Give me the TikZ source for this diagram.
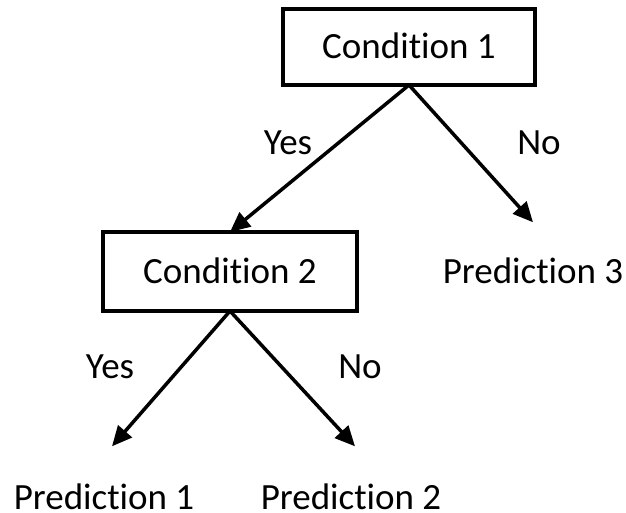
\documentclass[tikz,border=0pt]{standalone}
\usepackage{fontspec}
\setmainfont{Carlito}[Ligatures=NoCommon]
\usetikzlibrary{arrows.meta}
\begin{document}
\begin{tikzpicture}[x=1pt,y=-1pt,
  every node/.style={font=\fontsize{37}{44}\selectfont, text height=24pt, text depth=0pt},
  condbox/.style={draw, line width=3.5pt, minimum width=252pt, minimum height=76pt, inner sep=0pt, outer sep=0pt},
  predtext/.style={inner sep=0pt},
  lbl/.style={inner sep=0pt, anchor=base},
  arr/.style={line width=3.5pt, -{Triangle[length=20pt,width=18pt]}}]
\useasboundingbox (0,0) rectangle (626,513);
\node[condbox] (c1) at (409,47) {Condition 1};
\node[condbox, minimum width=254pt, minimum height=79pt] (c2) at (230,271.5) {Condition 2};
\node[predtext] (p3) at (533,271.5) {Prediction 3};
\node[predtext] (p1) at (104,497) {Prediction 1};
\node[predtext] (p2) at (351,497) {Prediction 2};
\node[lbl] (y1) at (288,155) {Yes};
\node[lbl] (n1) at (539,155) {No};
\node[lbl] (y2) at (110,378) {Yes};
\node[lbl] (n2) at (360,378) {No};
\draw[arr] (c1.south) -- ([yshift=37pt]p3.north);
\draw[arr] (c1.south) -- (c2.north);
\draw[arr] (c2.south) -- ([xshift=8pt,yshift=38.5pt]p1.north);
\draw[arr] (c2.south) -- ([xshift=4pt,yshift=38.5pt]p2.north);
\end{tikzpicture}
\end{document}
